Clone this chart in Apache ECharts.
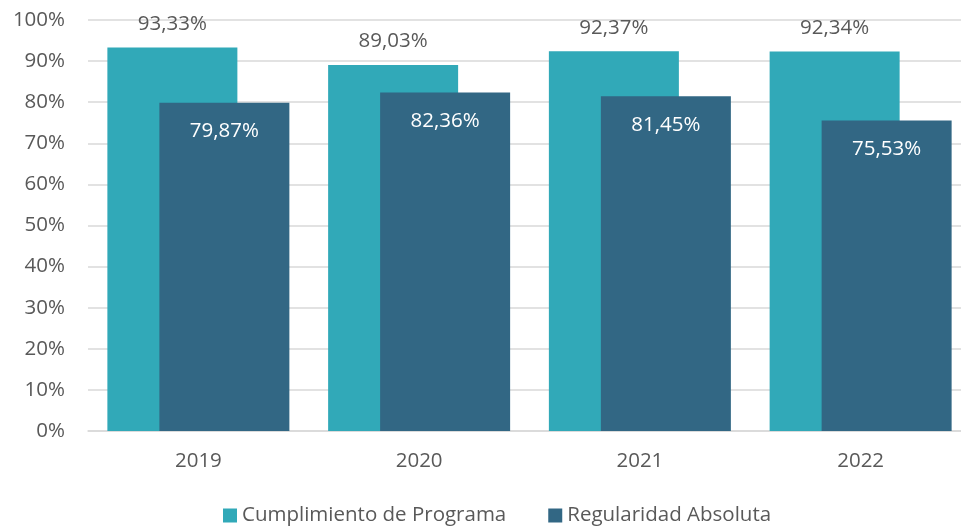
<!DOCTYPE html>
<html lang="es">
<head>
    <meta charset="UTF-8">
    <title>Cumplimiento y Regularidad</title>
    <script src="https://cdn.jsdelivr.net/npm/echarts@6/dist/echarts.min.js"></script>
</head>
<body style="margin:0">
<div id="main" style="width: 961px;height:527px;"></div>
<script type="text/javascript">
    var years = ['2019', '2020', '2021', '2022'];
    var cumplimiento = [93.33, 89.03, 92.37, 92.34];
    var regularidad = [79.87, 82.36, 81.45, 75.53];
    var yTicks = [0, 10, 20, 30, 40, 50, 60, 70, 80, 90, 100];

    var fmt = function (v) {
        return v.toFixed(2).replace('.', ',') + '%';
    };
    var txt = '#595959';
    var font = 'Open Sans';
    var fs = 20.5;

    var myChart = echarts.init(document.getElementById('main'));
    var option = {
        animation: false,
        textStyle: { fontFamily: font },
        // la zona del gráfico sobresale un poco por la derecha, como en el original
        grid: { left: 88, width: 883, top: 20, height: 411, outerBoundsMode: 'none', containLabel: false },
        legend: {
            top: 500,
            left: 218,
            itemWidth: 14,
            itemHeight: 14,
            itemGap: 42,
            icon: 'rect',
            textStyle: { color: txt, fontSize: fs, fontFamily: font },
            data: ['Cumplimiento de Programa', 'Regularidad Absoluta']
        },
        xAxis: {
            type: 'category',
            data: years,
            axisLine: { lineStyle: { color: '#d9d9d9', width: 1.5 } },
            axisTick: { show: false },
            axisLabel: { color: txt, fontSize: fs, margin: 20 }
        },
        yAxis: {
            type: 'value',
            min: yTicks[0],
            max: yTicks[yTicks.length - 1],
            interval: 10,
            axisLine: { show: false },
            axisTick: { show: false },
            splitLine: { lineStyle: { color: '#d9d9d9', width: 1.5 } },
            axisLabel: { color: txt, fontSize: fs, margin: 23, formatter: '{value}%' }
        },
        series: [
            {
                name: 'Cumplimiento de Programa',
                type: 'bar',
                data: cumplimiento,
                barWidth: 130,
                barGap: '-60%',
                itemStyle: { color: '#31a9b8' },
                label: {
                    show: true,
                    position: 'top',
                    distance: 13,
                    color: txt,
                    fontSize: fs,
                    formatter: function (p) { return fmt(p.value); }
                }
            },
            {
                name: 'Regularidad Absoluta',
                type: 'bar',
                data: regularidad,
                barWidth: 130,
                itemStyle: { color: '#326784' },
                label: {
                    show: true,
                    position: 'insideTop',
                    distance: 18,
                    color: '#ffffff',
                    fontSize: fs,
                    formatter: function (p) { return fmt(p.value); }
                }
            }
        ]
    };
    myChart.setOption(option);
</script>
</body>
</html>
